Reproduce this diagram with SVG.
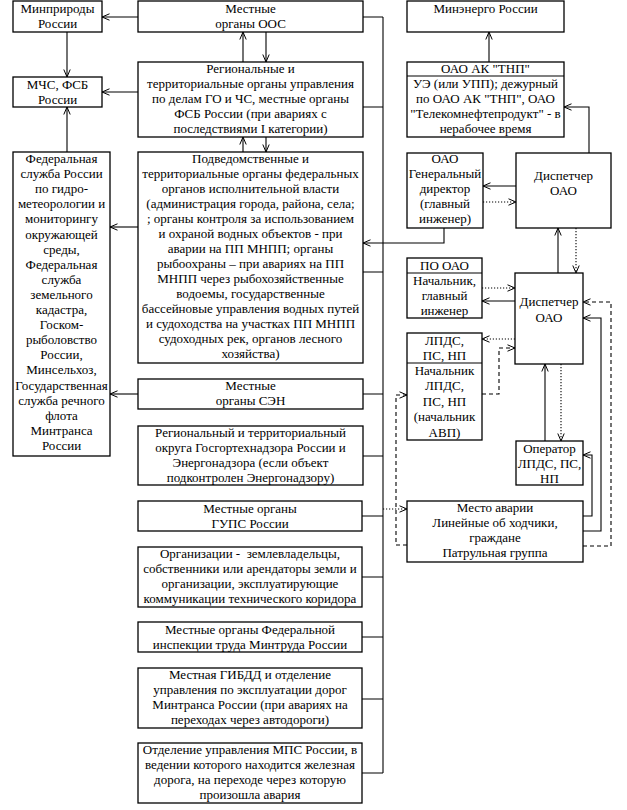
<svg xmlns="http://www.w3.org/2000/svg" width="627" height="810" viewBox="0 0 627 810">
<defs>
<marker id="ah" markerUnits="userSpaceOnUse" markerWidth="10" markerHeight="8" refX="8" refY="4" orient="auto">
<path d="M0.5,0.8 L8,4 L0.5,7.2" fill="none" stroke="#000" stroke-width="1"/>
</marker>
<style>
.b{fill:#fff;stroke:#000;stroke-width:1.3}
.t{font-family:"Liberation Serif","Times New Roman",serif;font-size:13px;fill:#000;text-anchor:middle}
.c{fill:none;stroke:#000;stroke-width:1.1}
.a{marker-end:url(#ah)}
.dot{stroke-dasharray:1.2,1.8}
.dash{stroke-dasharray:4,3}
</style>
</defs>
<rect width="627" height="810" fill="#fff"/>

<g id="connectors">
<!-- left column -->
<path class="c a" d="M138,17 H102"/>
<path class="c a" d="M67,32 V77"/>
<path class="c a" d="M138,92 H102"/>
<path class="c a" d="M67,152 V107"/>
<path class="c a" d="M243,62 V32"/>
<path class="c a" d="M266,32 V62"/>
<path class="c a" d="M243,152 V137"/>
<path class="c a" d="M266,137 V152"/>
<path class="c a" d="M138,227 H110"/>
<path class="c a" d="M138,394 H110"/>
<!-- bus -->
<path class="c" d="M383,17 V773"/>
<path class="c" d="M363,17 H383 M363,107 H383 M363,272 H383 M363,394 H383 M362,456 H383 M362,516 H383 M362,577 H383 M362,637 H383 M362,699 H383 M362,773 H383"/>
<path class="c a dot" d="M383,509 H407"/>
<!-- right side -->
<path class="c a" d="M444,228 V243 H363"/>
<path class="c a" d="M589,153 V107 H564"/>
<path class="c a" d="M489,62 V32"/>
<path class="c a" d="M516,186 H483"/>
<path class="c a dot" d="M483,202 H516"/>
<path class="c a" d="M558,273 V228"/>
<path class="c a dot" d="M576,228 V273"/>
<path class="c a dot" d="M482,288 H515"/>
<path class="c a" d="M515,301 H482"/>
<path class="c a dot" d="M515,339 H482"/>
<path class="c a dash" d="M482,394 H499 V348 H515"/>
<path class="c a dash" d="M407,545 H396 V395 H407"/>
<path class="c a" d="M545,441 V364"/>
<path class="c a dot" d="M561,364 V441"/>
<path class="c a" d="M583,516 H592 V455 H583"/>
<path class="c a" d="M583,531 H601 V318 H583"/>
<path class="c a dash" d="M583,546 H611 V302 H583"/>
</g>

<g id="n-minprirody"><rect class="b" x="13" y="1" width="89" height="31"/>
<text class="t" x="57.5" y="13">Минприроды<tspan x="57.5" dy="15">России</tspan></text></g>

<g id="n-oos"><rect class="b" x="138" y="1" width="225" height="31"/>
<text class="t" x="250.5" y="13">Местные<tspan x="250.5" dy="15">органы ООС</tspan></text></g>

<g id="n-mchs"><rect class="b" x="13" y="77" width="89" height="30"/>
<text class="t" x="57.5" y="89">МЧС, ФСБ<tspan x="57.5" dy="15">России</tspan></text></g>

<g id="n-regional"><rect class="b" x="138" y="62" width="225" height="75"/>
<text class="t" x="250.5" y="73">Региональные и<tspan x="250.5" dy="15">территориальные органы управления</tspan><tspan x="250.5" dy="15">по делам ГО и ЧС, местные органы</tspan><tspan x="250.5" dy="15">ФСБ России (при авариях с</tspan><tspan x="250.5" dy="15">последствиями I категории)</tspan></text></g>

<g id="n-podved"><rect class="b" x="138" y="152" width="225" height="211"/>
<text class="t" x="250.5" y="163">Подведомственные и<tspan x="250.5" dy="15">территориальные органы федеральных</tspan><tspan x="250.5" dy="15">органов исполнительной власти</tspan><tspan x="250.5" dy="15">(администрация города, района, села;</tspan><tspan x="250.5" dy="15">; органы контроля за использованием</tspan><tspan x="250.5" dy="15">и охраной водных объектов - при</tspan><tspan x="250.5" dy="15">аварии на ПП МНПП; органы</tspan><tspan x="250.5" dy="15">рыбоохраны – при авариях на ПП</tspan><tspan x="250.5" dy="15">МНПП через рыбохозяйственные</tspan><tspan x="250.5" dy="15">водоемы, государственные</tspan><tspan x="250.5" dy="15">бассейновые управления водных путей</tspan><tspan x="250.5" dy="15">и судоходства на участках ПП МНПП</tspan><tspan x="250.5" dy="15">судоходных рек, органов лесного</tspan><tspan x="250.5" dy="15">хозяйства)</tspan></text></g>

<g id="n-federal"><rect class="b" x="13" y="152" width="97" height="304"/>
<text class="t" x="61.5" y="163">Федеральная<tspan x="61.5" dy="15.1">служба России</tspan><tspan x="61.5" dy="15.1">по гидро-</tspan><tspan x="61.5" dy="15.1">метеорологии и</tspan><tspan x="61.5" dy="15.1">мониторингу</tspan><tspan x="61.5" dy="15.1">окружающей</tspan><tspan x="61.5" dy="15.1">среды,</tspan><tspan x="61.5" dy="15.1">Федеральная</tspan><tspan x="61.5" dy="15.1">служба</tspan><tspan x="61.5" dy="15.1">земельного</tspan><tspan x="61.5" dy="15.1">кадастра,</tspan><tspan x="61.5" dy="15.1">Госком-</tspan><tspan x="61.5" dy="15.1">рыболовство</tspan><tspan x="61.5" dy="15.1">России,</tspan><tspan x="61.5" dy="15.1">Минсельхоз,</tspan><tspan x="61.5" dy="15.1">Государственная</tspan><tspan x="61.5" dy="15.1">служба речного</tspan><tspan x="61.5" dy="15.1">флота</tspan><tspan x="61.5" dy="15.1">Минтранса</tspan><tspan x="61.5" dy="15.1">России</tspan></text></g>

<g id="n-sen"><rect class="b" x="138" y="379" width="225" height="30"/>
<text class="t" x="250.5" y="390">Местные<tspan x="250.5" dy="15">органы СЭН</tspan></text></g>

<g id="n-gosgor"><rect class="b" x="138" y="426" width="225" height="59"/>
<text class="t" x="250.5" y="437">Региональный и территориальный<tspan x="250.5" dy="15">округа Госгортехнадзора России и</tspan><tspan x="250.5" dy="15">Энергонадзора (если объект</tspan><tspan x="250.5" dy="15">подконтролен Энергонадзору)</tspan></text></g>

<g id="n-gups"><rect class="b" x="138" y="501" width="224" height="30"/>
<text class="t" x="250" y="513">Местные органы<tspan x="250" dy="15">ГУПС России</tspan></text></g>

<g id="n-org"><rect class="b" x="138" y="547" width="224" height="60"/>
<text class="t" x="250" y="558" xml:space="preserve">Организации -  землевладельцы,<tspan x="250" dy="15">собственники или арендаторы земли и</tspan><tspan x="250" dy="15">организации, эксплуатирующие</tspan><tspan x="250" dy="15">коммуникации технического коридора</tspan></text></g>

<g id="n-trud"><rect class="b" x="138" y="622" width="224" height="30"/>
<text class="t" x="250" y="634">Местные органы Федеральной<tspan x="250" dy="15">инспекции труда Минтруда России</tspan></text></g>

<g id="n-gibdd"><rect class="b" x="138" y="668" width="224" height="60"/>
<text class="t" x="250" y="679">Местная ГИБДД и отделение<tspan x="250" dy="15">управления по эксплуатации дорог</tspan><tspan x="250" dy="15">Минтранса России (при авариях на</tspan><tspan x="250" dy="15">переходах через автодороги)</tspan></text></g>

<g id="n-mps"><rect class="b" x="138" y="743" width="224" height="60"/>
<text class="t" x="250" y="754">Отделение управления МПС России, в<tspan x="250" dy="15">ведении которого находится железная</tspan><tspan x="250" dy="15">дорога, на переходе через которую</tspan><tspan x="250" dy="15">произошла авария</tspan></text></g>

<g id="n-minenergo"><rect class="b" x="407" y="1" width="157" height="31"/>
<text class="t" x="485.5" y="13">Минэнерго России</text></g>

<g id="n-tnp"><rect class="b" x="407" y="62" width="157" height="75"/>
<line x1="407" y1="76" x2="564" y2="76" stroke="#000" stroke-width="1.1"/>
<text class="t" x="485.5" y="73">ОАО АК "ТНП"<tspan x="485.5" dy="15">УЭ (или УПП); дежурный</tspan><tspan x="485.5" dy="15">по ОАО АК "ТНП", ОАО</tspan><tspan x="485.5" dy="15">"Телекомнефтепродукт" - в</tspan><tspan x="485.5" dy="15">нерабочее время</tspan></text></g>

<g id="n-gendir"><rect class="b" x="407" y="153" width="76" height="75"/>
<text class="t" x="445" y="163">ОАО<tspan x="445" dy="15">Генеральный</tspan><tspan x="445" dy="15">директор</tspan><tspan x="445" dy="15">(главный</tspan><tspan x="445" dy="15">инженер)</tspan></text></g>

<g id="n-disp1"><rect class="b" x="516" y="153" width="95" height="75"/>
<text class="t" x="563.5" y="180">Диспетчер<tspan x="563.5" dy="15">ОАО</tspan></text></g>

<g id="n-po"><rect class="b" x="407" y="258" width="75" height="60"/>
<line x1="407" y1="273" x2="482" y2="273" stroke="#000" stroke-width="1.1"/>
<text class="t" x="444.5" y="270">ПО ОАО<tspan x="444.5" dy="14.5">Начальник,</tspan><tspan x="444.5" dy="15">главный</tspan><tspan x="444.5" dy="15">инженер</tspan></text></g>

<g id="n-disp2"><rect class="b" x="515" y="273" width="68" height="91"/>
<text class="t" x="549" y="306">Диспетчер<tspan x="549" dy="15.5">ОАО</tspan></text></g>

<g id="n-lpds"><rect class="b" x="407" y="333" width="75" height="107"/>
<line x1="407" y1="363" x2="482" y2="363" stroke="#000" stroke-width="1.1"/>
<text class="t" x="444.5" y="345">ЛПДС,<tspan x="444.5" dy="15">ПС, НП</tspan><tspan x="444.5" dy="14.5">Начальник</tspan><tspan x="444.5" dy="15.5">ЛПДС,</tspan><tspan x="444.5" dy="15.5">ПС, НП</tspan><tspan x="444.5" dy="15.5">(начальник</tspan><tspan x="444.5" dy="15.5">АВП)</tspan></text></g>

<g id="n-operator"><rect class="b" x="516" y="441" width="67" height="44"/>
<text class="t" x="549.5" y="453">Оператор<tspan x="549.5" dy="15">ЛПДС, ПС,</tspan><tspan x="549.5" dy="14.5">НП</tspan></text></g>

<g id="n-mesto"><rect class="b" x="407" y="501" width="176" height="61"/>
<text class="t" x="495" y="512">Место аварии<tspan x="495" dy="15">Линейные об ходчики,</tspan><tspan x="495" dy="15">граждане</tspan><tspan x="495" dy="15">Патрульная группа</tspan></text></g>
</svg>
